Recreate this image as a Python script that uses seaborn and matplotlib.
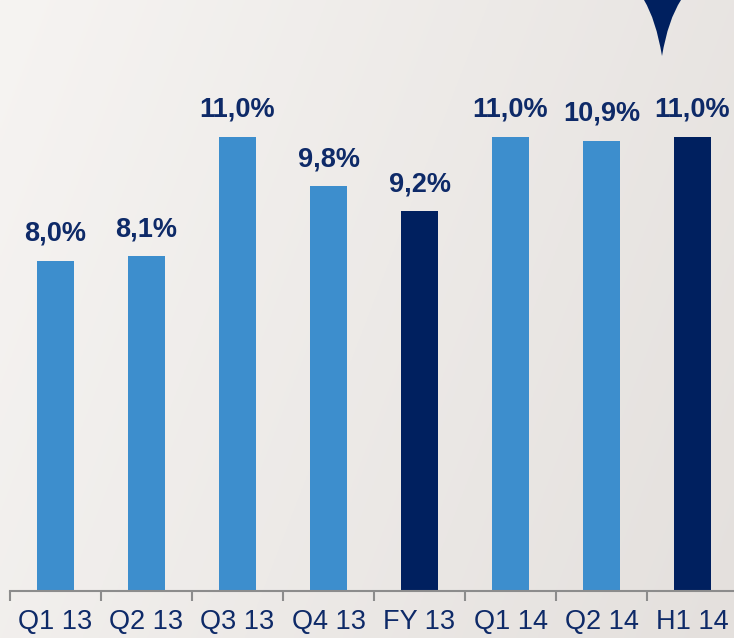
import numpy as np
import pandas as pd
import matplotlib
matplotlib.use("Agg")
import matplotlib.pyplot as plt
from matplotlib.path import Path
from matplotlib.patches import PathPatch
import seaborn as sns

categories = ["Q1 13", "Q2 13", "Q3 13", "Q4 13", "FY 13", "Q1 14", "Q2 14", "H1 14"]
values = [8.0, 8.1, 11.0, 9.8, 9.2, 11.0, 10.9, 11.0]
labels = ["8,0%", "8,1%", "11,0%", "9,8%", "9,2%", "11,0%", "10,9%", "11,0%"]
kinds = ["q", "q", "q", "q", "fy", "q", "q", "fy"]

LIGHT = "#3d8ecd"
NAVY = "#00205f"
TEXT = "#0e2a68"

sns.set_theme(style="white")
plt.rcParams["font.family"] = ["Liberation Sans", "DejaVu Sans"]

W, H = 734, 638
fig = plt.figure(figsize=(W / 100, H / 100), dpi=100)

# gradient background
bg = fig.add_axes([0, 0, 1, 1], zorder=-10)
xx = np.linspace(0, 1, 300)
yy = np.linspace(0, 1, 300)
X, Y = np.meshgrid(xx, yy)
t = np.clip(0.75 * X + 0.25 * Y, 0, 1)
c0 = np.array([0xf6, 0xf4, 0xf2]) / 255
c1 = np.array([0xe4, 0xe0, 0xdd]) / 255
img = c0[None, None, :] * (1 - t[..., None]) + c1[None, None, :] * t[..., None]
bg.imshow(img, aspect="auto", extent=[0, 1, 0, 1], origin="upper")
bg.axis("off")

# decoration at top right
sx = lambda px: px / W
sy = lambda py: 1 - py / H
verts = [(sx(644), sy(0)), (sx(656), sy(20)), (sx(662), sy(56)),
         (sx(668), sy(20)), (sx(681), sy(0)), (sx(644), sy(0))]
codes = [Path.MOVETO, Path.CURVE3, Path.CURVE3, Path.CURVE3, Path.CURVE3, Path.CLOSEPOLY]
fig.patches.append(PathPatch(Path(verts, codes), transform=fig.transFigure,
                             facecolor=NAVY, edgecolor="none", zorder=5))

ax = fig.add_axes([10 / W, (H - 591) / H, 728 / W, 591 / H])
ax.patch.set_alpha(0)

df = pd.DataFrame({"cat": categories, "val": values, "kind": kinds})
palette = {c: (NAVY if k == "fy" else LIGHT) for c, k in zip(categories, kinds)}
sns.barplot(data=df, x="cat", y="val", hue="cat", palette=palette, dodge=False,
            width=37 / 91, legend=False, saturation=1, ax=ax, linewidth=0)

ax.set_ylim(0, 591 / 41.3)
ax.set_xlim(-0.5, 7.5)

for i, (v, lab) in enumerate(zip(values, labels)):
    ax.annotate(lab, (i, v), xytext=(0, 10), textcoords="offset points",
                ha="center", va="bottom", fontsize=19.5, fontweight="bold", color=TEXT)

for s in ["left", "right", "top"]:
    ax.spines[s].set_visible(False)
ax.spines["bottom"].set_color("#8c8c8c")
ax.spines["bottom"].set_linewidth(1.5)
ax.set_yticks([])
ax.set_xticks(range(len(categories)))
ax.set_xticklabels(categories, fontsize=19.5, color=TEXT)
ax.set_xticks(np.arange(-0.5, 8.0, 1.0), minor=True)
ax.tick_params(axis="x", which="major", length=0, pad=13)
ax.tick_params(axis="x", which="minor", length=7, width=1.5, color="#8c8c8c", bottom=True)
ax.set_xlabel("")
ax.set_ylabel("")

fig.savefig("out.png", dpi=100)
